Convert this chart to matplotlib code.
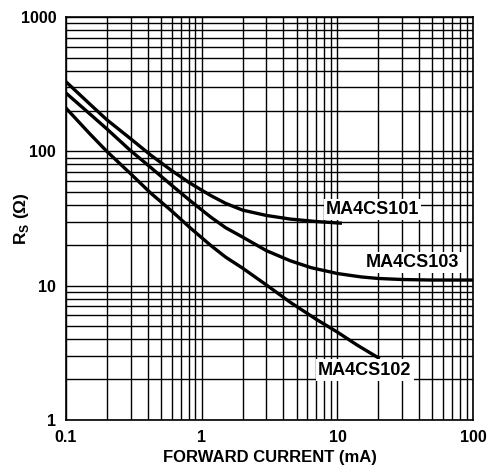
import matplotlib
matplotlib.use("Agg")
import matplotlib.pyplot as plt
from matplotlib.ticker import LogLocator, NullFormatter, FixedLocator, FixedFormatter

plt.rcParams['font.family'] = ['Liberation Sans', 'DejaVu Sans']
plt.rcParams['mathtext.fontset'] = 'custom'
plt.rcParams['mathtext.bf'] = 'Liberation Sans:bold'
plt.rcParams['mathtext.rm'] = 'Liberation Sans:bold'

# values (mA, ohm)
cs101_i = [0.1, 0.15, 0.2, 0.3, 0.42, 0.6, 0.82, 1.16, 1.5, 2.0, 3.0, 4.5, 7.0, 10.5]
cs101_r = [330, 225, 172, 124, 94, 72, 58, 47, 41, 36.5, 33.3, 31.3, 30, 29.2]

cs103_i = [0.1, 0.15, 0.2, 0.3, 0.42, 0.6, 0.82, 1.16, 1.5, 2.0, 3.0, 4.5, 6.4, 10, 15, 20, 30, 50, 100]
cs103_r = [272, 190, 147, 101, 76, 56, 43, 32.5, 27, 23, 18.2, 15.3, 13.6, 12.3, 11.6, 11.3, 11.1, 11, 11]

cs102_i = [0.1, 0.15, 0.2, 0.3, 0.42, 0.6, 0.82, 1.16, 1.5, 2.0, 3.0, 4.5, 7.0, 10, 14, 20]
cs102_r = [210, 135, 100, 68, 49, 36, 27, 20, 16.3, 13.5, 10.1, 7.5, 5.6, 4.5, 3.6, 2.9]

x_ticks = [0.1, 1, 10, 100]
x_labels = ["0.1", "1", "10", "100"]
y_ticks = [1, 10, 100, 1000]
y_labels = ["1", "10", "100", "1000"]

fig = plt.figure(figsize=(4.96, 4.76), dpi=100)
ax = fig.add_axes([0.133, 0.118, 0.821, 0.846])

ax.set_xscale('log')
ax.set_yscale('log')
ax.set_xlim(0.1, 100)
ax.set_ylim(1, 1000)

ax.xaxis.set_major_locator(FixedLocator(x_ticks))
ax.xaxis.set_major_formatter(FixedFormatter(x_labels))
ax.yaxis.set_major_locator(FixedLocator(y_ticks))
ax.yaxis.set_major_formatter(FixedFormatter(y_labels))
ax.xaxis.set_minor_locator(LogLocator(base=10, subs=range(2, 10), numticks=20))
ax.yaxis.set_minor_locator(LogLocator(base=10, subs=range(2, 10), numticks=20))
ax.xaxis.set_minor_formatter(NullFormatter())
ax.yaxis.set_minor_formatter(NullFormatter())

ax.grid(True, which='both', color='black', linewidth=1.0)
ax.tick_params(which='both', length=0, pad=7, labelsize=11.5)
for lbl in ax.get_xticklabels() + ax.get_yticklabels():
    lbl.set_fontweight('bold')
for sp in ax.spines.values():
    sp.set_linewidth(1.2)

ax.plot(cs101_i, cs101_r, color='black', linewidth=2.4, solid_joinstyle='round')
ax.plot(cs103_i, cs103_r, color='black', linewidth=2.4, solid_joinstyle='round')
ax.plot(cs102_i, cs102_r, color='black', linewidth=2.4, solid_joinstyle='round')

box = dict(facecolor='white', edgecolor='none', pad=1.5)
ax.text(8.2, 37, "MA4CS101", fontsize=13, fontweight='bold', va='center', ha='left', bbox=box)
ax.text(16.3, 14.8, "MA4CS103", fontsize=13, fontweight='bold', va='center', ha='left', bbox=box)
ax.text(7.2, 2.35, "MA4CS102", fontsize=13, fontweight='bold', va='center', ha='left', bbox=box)

ax.set_xlabel("FORWARD CURRENT (mA)", fontsize=12, fontweight='bold', labelpad=4)
ax.set_ylabel(r"R$_\mathbf{S}$ ($\Omega$)", fontsize=12.5, fontweight='bold')
ax.yaxis.set_label_coords(-0.085, 0.5)

fig.savefig("out.png", dpi=100)
